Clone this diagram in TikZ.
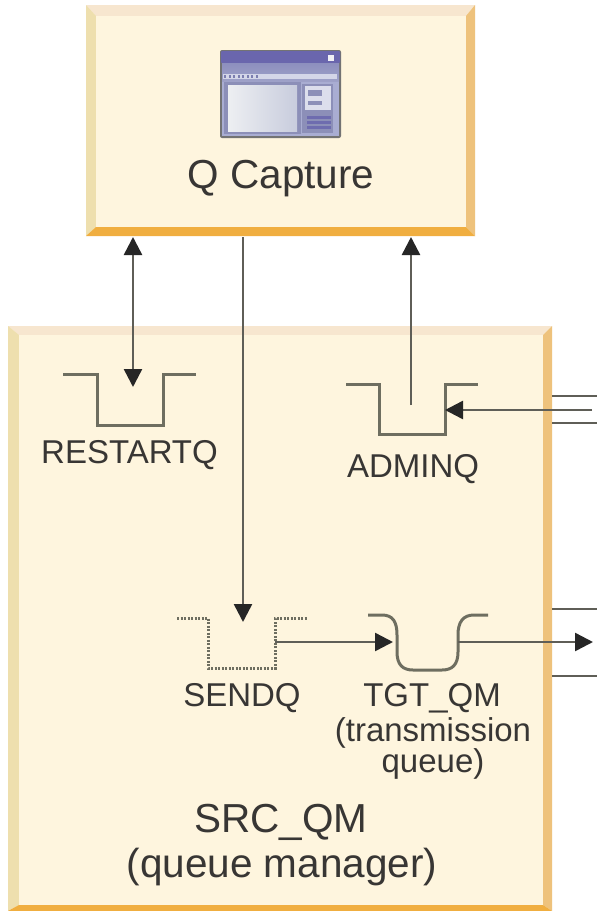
\documentclass[tikz,border=0pt]{standalone}
\usepackage{fontspec}
\setmainfont{Liberation Sans}
\usetikzlibrary{arrows.meta}
\definecolor{boxfill}{HTML}{FEF5DE}
\definecolor{bevtop}{HTML}{F7E6CF}
\definecolor{bevleft}{HTML}{EEDFAE}
\definecolor{bevright}{HTML}{EEC27C}
\definecolor{bevbot}{HTML}{F0AE40}
\definecolor{ink}{HTML}{383634}
\definecolor{wire}{HTML}{5F5E57}
\definecolor{qline}{HTML}{6E6E60}
\definecolor{icA}{HTML}{A9ADD2}
\definecolor{icB}{HTML}{6A66AD}
\definecolor{icC}{HTML}{F0F0F5}
\definecolor{icD}{HTML}{8D8FBE}
\definecolor{icE}{HTML}{9EA1C8}
\definecolor{icF}{HTML}{D4D6E8}
\definecolor{icG}{HTML}{7C7EB0}
\definecolor{icH}{HTML}{8C8FB8}
\definecolor{icI}{HTML}{EDEFF2}
\definecolor{icJ}{HTML}{C8CCDD}
\definecolor{icK}{HTML}{DCDEEC}
\definecolor{icL}{HTML}{6E6CAF}
\tikzset{
  big/.style={font=\fontsize{40.5}{40.5}\selectfont, text=ink, inner sep=0pt, anchor=base},
  small/.style={font=\fontsize{33}{33}\selectfont, text=ink, inner sep=0pt, anchor=base},
  flow/.style={draw=wire, line width=2.5pt, -{Triangle[length=18pt,width=18pt,color=black!85]}},
  flowboth/.style={draw=wire, line width=2.5pt, {Triangle[length=18pt,width=18pt,color=black!85]}-{Triangle[length=18pt,width=18pt,color=black!85]}},
  plain/.style={draw=wire, line width=2.5pt},
  queue/.style={draw=qline, line width=3pt, line join=miter},
  dottedqueue/.style={draw=qline, line width=3pt, dash pattern=on 2pt off 1.5pt},
}
\newcommand{\bevelbox}[8]{%
  \fill[boxfill] (#1,#2) rectangle (#3,#4);
  \fill[bevtop] (#1,#2) -- (#3,#2) -- (#7,#6) -- (#5,#6) -- cycle;
  \fill[bevleft] (#1,#2) -- (#5,#6) -- (#5,#8) -- (#1,#4) -- cycle;
  \fill[bevright] (#3,#2) -- (#7,#6) -- (#7,#8) -- (#3,#4) -- cycle;
  \fill[bevbot] (#1,#4) -- (#5,#8) -- (#7,#8) -- (#3,#4) -- cycle;
  \fill[boxfill] (#5,#6) rectangle (#7,#8);
}
\begin{document}
\begin{tikzpicture}[x=1pt,y=-1pt]
\useasboundingbox (0,0) rectangle (597,911);
\fill[white] (0,0) rectangle (597,911);
% boxes
\bevelbox{86}{5}{475}{236}{96}{16}{466}{227}
\bevelbox{8}{326}{552}{911}{19}{335}{543}{905}
\coordinate (capbot1) at (133,237);
\coordinate (capbot2) at (243,237);
\coordinate (capbot3) at (411,237);
% icon
\fill[black!55, rounded corners=2pt] (220,50) rectangle (341,138);
\fill[icA] (222,62) rectangle (339,136);
\fill[icB, rounded corners=1pt] (221,51) rectangle (340,63);
\fill[icC] (328,55) rectangle (334,61);
\fill[top color=icD, bottom color=icE] (222,63) rectangle (339,81);
\fill[icF] (223,74) rectangle (337,79);
\foreach \dx in {0,1,2,3,4,5,6,7}{\fill[icG] (224+\dx*4.5,75) rectangle (226+\dx*4.5,78);}
\fill[icH] (224,82) rectangle (301,134);
\shade[left color=icI, right color=icJ] (228,85) rectangle (297,131);
\fill[icH] (302,84) rectangle (333,133);
\fill[icK] (305,86) rectangle (331,110);
\fill[icH] (308,90) rectangle (322,96);
\fill[icH] (308,101) rectangle (322,105);
\foreach \yy in {116,121,126}{\fill[icL] (307,\yy) rectangle (331,\yy+3.2);}
% queues
\draw[queue] (63,374) -- (97,374) -- (97,425) -- (163,425) -- (163,374) -- (196,374);
\draw[queue] (346,384) -- (379,384) -- (379,434) -- (445,434) -- (445,384) -- (478,384);
\draw[dottedqueue] (177,618) -- (208,618) -- (208,668) -- (275,668) -- (275,618) -- (308,618);
\draw[queue] (368,615) -- (382,615) .. controls (393,615) and (397,622) .. (397,635) -- (397,652) .. controls (397,665) and (403,670) .. (413,670) -- (442,670) .. controls (452,670) and (458,665) .. (458,652) -- (458,635) .. controls (458,622) and (463,615) .. (474,615) -- (488,615);
% endpoints
\coordinate (restart) at (133,387);
\coordinate (adminup) at (411,405);
\coordinate (adminright) at (445,410);
\coordinate (adminin) at (592,410);
\coordinate (sendin) at (243,622);
\coordinate (sendout) at (275,642);
\coordinate (tgtin) at (393,642);
\coordinate (tgtout) at (458,642);
\coordinate (away) at (593,642);
\coordinate (a1) at (552,396);
\coordinate (a2) at (597,396);
\coordinate (b1) at (552,423);
\coordinate (b2) at (597,423);
\coordinate (c1) at (552,609);
\coordinate (c2) at (597,609);
\coordinate (d1) at (552,676);
\coordinate (d2) at (597,676);
% connectors
\draw[flowboth] (capbot1) -- (restart);
\draw[flow] (capbot2) -- (sendin);
\draw[flow] (adminup) -- (capbot3);
\draw[flow] (adminin) -- (adminright);
\draw[flow] (sendout) -- (tgtin);
\draw[flow] (tgtout) -- (away);
\draw[plain] (a1) -- (a2);
\draw[plain] (b1) -- (b2);
\draw[plain] (c1) -- (c2);
\draw[plain] (d1) -- (d2);
% texts
\node[big] (qcap) at (281,188) {Q Capture};
\node[small] (rq) at (129.5,463) {RESTARTQ};
\node[small] (aq) at (413,477) {ADMINQ};
\node[small] (sq) at (242,706) {SENDQ};
\node[small] (tq) at (432,706) {TGT\_QM};
\node[small] (tq2) at (433,741) {(transmission};
\node[small] (tq3) at (433,772) {queue)};
\node[big] (src) at (281,832) {SRC\_QM};
\node[big] (srcb) at (282,877) {(queue manager)};
\end{tikzpicture}
\end{document}
